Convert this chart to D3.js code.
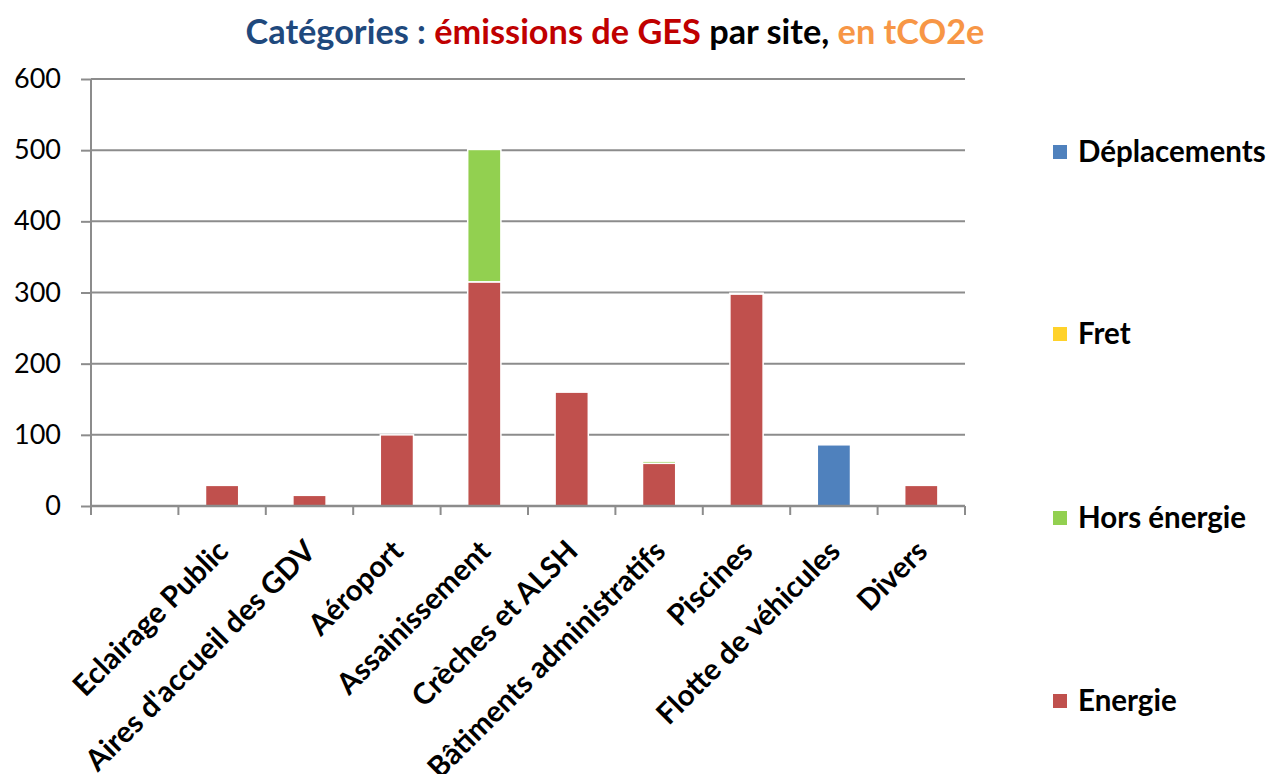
<!DOCTYPE html>
<html>
<head>
<meta charset="utf-8">
<script src="https://cdn.jsdelivr.net/npm/d3@7"></script>
<style>
  body { margin: 0; background: #fff; }
  svg { display: block; font-family: Lato, "Open Sans", sans-serif; }
</style>
</head>
<body>
<svg id="chart"></svg>
<script>
// categories (the first one is blank in the original sheet)
const categories = ["", "Eclairage Public", "Aires d'accueil des GDV", "Aéroport", "Assainissement",
  "Crèches et ALSH", "Bâtiments administratifs", "Piscines", "Flotte de véhicules", "Divers"];

// series, tCO2e
const energie      = [0, 29, 15, 100, 315, 160, 60, 298, 0, 29];
const horsEnergie  = [0, 0, 0, 0, 186, 0, 3, 1, 0, 0];
const fret         = [0, 0, 0, 0, 0, 0, 0, 0, 0, 0];
const deplacements = [0, 0, 0, 0, 0, 0, 0, 0, 86, 0];

const seriesNames = ["Energie", "Hors énergie", "Fret", "Déplacements"];
const seriesColors = ["#c0504d", "#92d050", "#ffd22a", "#4f81bd"];
const yTicks = [0, 100, 200, 300, 400, 500, 600];

const width = 1269, height = 774;
const marginLeft = 91, marginRight = 304, marginTop = 79, marginBottom = 268;

const svg = d3.select("#chart").attr("width", width).attr("height", height);

// rows for the stack
const rows = categories.map((c, i) => ({
  cat: c,
  "Energie": energie[i],
  "Hors énergie": horsEnergie[i],
  "Fret": fret[i],
  "Déplacements": deplacements[i]
}));
const stacked = d3.stack().keys(seriesNames)(rows);

const x = d3.scaleBand()
  .domain(categories)
  .range([marginLeft, width - marginRight])
  .paddingInner(0).paddingOuter(0);

const y = d3.scaleLinear()
  .domain([0, 600])
  .range([height - marginBottom, marginTop]);

const color = d3.scaleOrdinal().domain(seriesNames).range(seriesColors);

// gridlines + y axis labels
const yAxis = svg.append("g")
  .attr("transform", `translate(${marginLeft},0)`)
  .call(d3.axisLeft(y).tickValues(yTicks).tickSize(10).tickPadding(20));
yAxis.select(".domain").remove();
yAxis.selectAll("line").attr("stroke", "#8c8c8c").attr("stroke-width", 2);
yAxis.selectAll("text").attr("font-size", 27).attr("fill", "#000").attr("font-family", "Lato");

svg.append("g").selectAll("line")
  .data(yTicks.filter(d => d > 0))
  .join("line")
  .attr("x1", marginLeft).attr("x2", width - marginRight)
  .attr("y1", d => y(d)).attr("y2", d => y(d))
  .attr("stroke", "#8c8c8c").attr("stroke-width", 2);

// bars
const barW = x.bandwidth() * 0.38;
svg.append("g").selectAll("g")
  .data(stacked)
  .join("g")
  .attr("fill", d => color(d.key))
  .selectAll("rect")
  .data(d => d.filter(p => p[1] - p[0] > 0))
  .join("rect")
  .attr("x", d => x(d.data.cat) + (x.bandwidth() - barW) / 2)
  .attr("width", barW)
  .attr("y", d => y(d[1]))
  .attr("height", d => y(d[0]) - y(d[1]))
  .attr("stroke", "#fff")
  .attr("stroke-width", 1.5);

// y axis line
svg.append("line")
  .attr("x1", marginLeft).attr("x2", marginLeft)
  .attr("y1", y(600)).attr("y2", y(0) + 9)
  .attr("stroke", "#8c8c8c").attr("stroke-width", 2);

// x axis line with ticks at category boundaries
svg.append("line")
  .attr("x1", marginLeft).attr("x2", width - marginRight)
  .attr("y1", y(0)).attr("y2", y(0))
  .attr("stroke", "#8c8c8c").attr("stroke-width", 2.5);

const bounds = categories.map(c => x(c)).concat([x.range()[1]]);
svg.append("g").selectAll("line")
  .data(bounds)
  .join("line")
  .attr("x1", d => d).attr("x2", d => d)
  .attr("y1", y(0)).attr("y2", y(0) + 9)
  .attr("stroke", "#8c8c8c").attr("stroke-width", 2);

// rotated category labels
svg.append("g").selectAll("text")
  .data(categories)
  .join("text")
  .attr("transform", d => `translate(${x(d) + x.bandwidth() / 2 + 8},${y(0) + 47}) rotate(-45)`)
  .attr("text-anchor", "end")
  .attr("font-size", 29.5)
  .attr("font-weight", 700)
  .attr("fill", "#000")
  .text(d => d);

// title
const title = svg.append("text")
  .attr("x", 615).attr("y", 44)
  .attr("text-anchor", "middle")
  .attr("font-size", 34.3)
  .attr("font-weight", 700);
title.append("tspan").attr("fill", "#1f497d").text("Catégories : ");
title.append("tspan").attr("fill", "#c00000").text("émissions de GES ");
title.append("tspan").attr("fill", "#000").text("par site, ");
title.append("tspan").attr("fill", "#f79646").text("en tCO2e");

// legend (reverse order, as in the original)
const legendY = [152, 334, 518, 701];
const legend = svg.append("g").selectAll("g")
  .data(seriesNames.slice().reverse())
  .join("g")
  .attr("transform", (d, i) => `translate(1053,${legendY[i]})`);
legend.append("rect")
  .attr("x", 0).attr("y", -7).attr("width", 14).attr("height", 14)
  .attr("fill", d => color(d));
legend.append("text")
  .attr("x", 25).attr("y", 10)
  .attr("font-size", 29.5)
  .attr("font-weight", 700)
  .attr("fill", "#000")
  .text(d => d);
</script>
</body>
</html>
